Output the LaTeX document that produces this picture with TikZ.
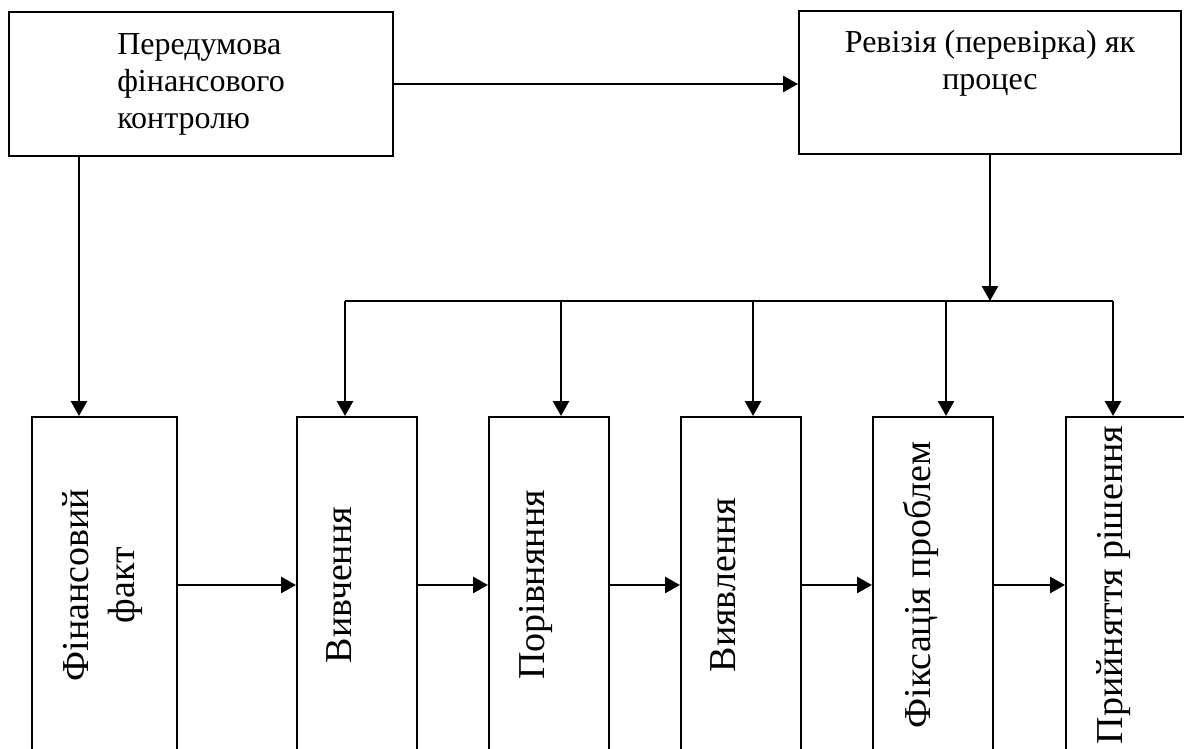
\documentclass[tikz,border=0pt]{standalone}
\usepackage{fontspec}
\setmainfont{Liberation Serif}
\usetikzlibrary{arrows.meta}
\begin{document}
\begin{tikzpicture}[x=1pt, y=-1pt, line width=2pt,
  box/.style={draw, rectangle, inner sep=0pt},
  stage/.style={box, minimum width=120pt, minimum height=336pt},
  stagetext/.style={rotate=90, anchor=north, inner sep=0pt, align=center, font={\fontsize{38}{46}\selectfont}},
  toptext/.style={inner sep=0pt, align=center, font={\fontsize{32}{37}\selectfont}},
  arr/.style={line width=2.6pt, -{Triangle[length=15pt, width=16pt]}}]
  \useasboundingbox (0,0) rectangle (1184,749);
  \clip (0,0) rectangle (1184,749);
  \node[box, toptext, align=left, minimum width=384pt, minimum height=144pt] (pered) at (201,84) {Передумова\\фінансового\\контролю};
  \node[box, minimum width=382pt, minimum height=143pt] (rev) at (990,82.5) {};
  \node[toptext, anchor=north] (revtext) at ([yshift=-19pt]rev.north) {Ревізія (перевірка) як\\процес};
  \node[stage, minimum width=145pt] (fin) at (104.5,585) {};
  \foreach \n/\x in {vyv/357, por/549, vyy/741, fix/933, pry/1126}
    \node[stage] (\n) at (\x,585) {};
  \node[stagetext] (fintext) at ([xshift=30pt]fin.west) {Фінансовий\\факт};
  \foreach \n/\txt in {vyv/Вивчення, por/Порівняння, vyy/Виявлення, fix/Фіксація проблем, pry/Прийняття рішення}
    \node[stagetext] (\n text) at ([xshift=30pt]\n.west) {\txt};
  \coordinate (bus) at (0,301);
  \coordinate (drop) at ([xshift=71pt]pered.south west);
  \draw[arr] (pered.east) -- (pered.east -| rev.west);
  \draw[arr] (drop) -- (drop |- fin.north);
  \draw[arr] (rev.south) -- (rev.south |- bus);
  \draw[line width=2.6pt] ([xshift=-12pt]vyv.north |- bus) -- ([xshift=-13pt]pry.north |- bus);
  \foreach \n/\d in {vyv/-12, por/12, vyy/12, fix/13, pry/-13}
    \draw[arr] ([xshift=\d pt]\n.north |- bus) -- ([xshift=\d pt]\n.north);
  \foreach \a/\b in {fin/vyv, vyv/por, por/vyy, vyy/fix, fix/pry}
    \draw[arr] (\a) -- (\b);
\end{tikzpicture}
\end{document}
